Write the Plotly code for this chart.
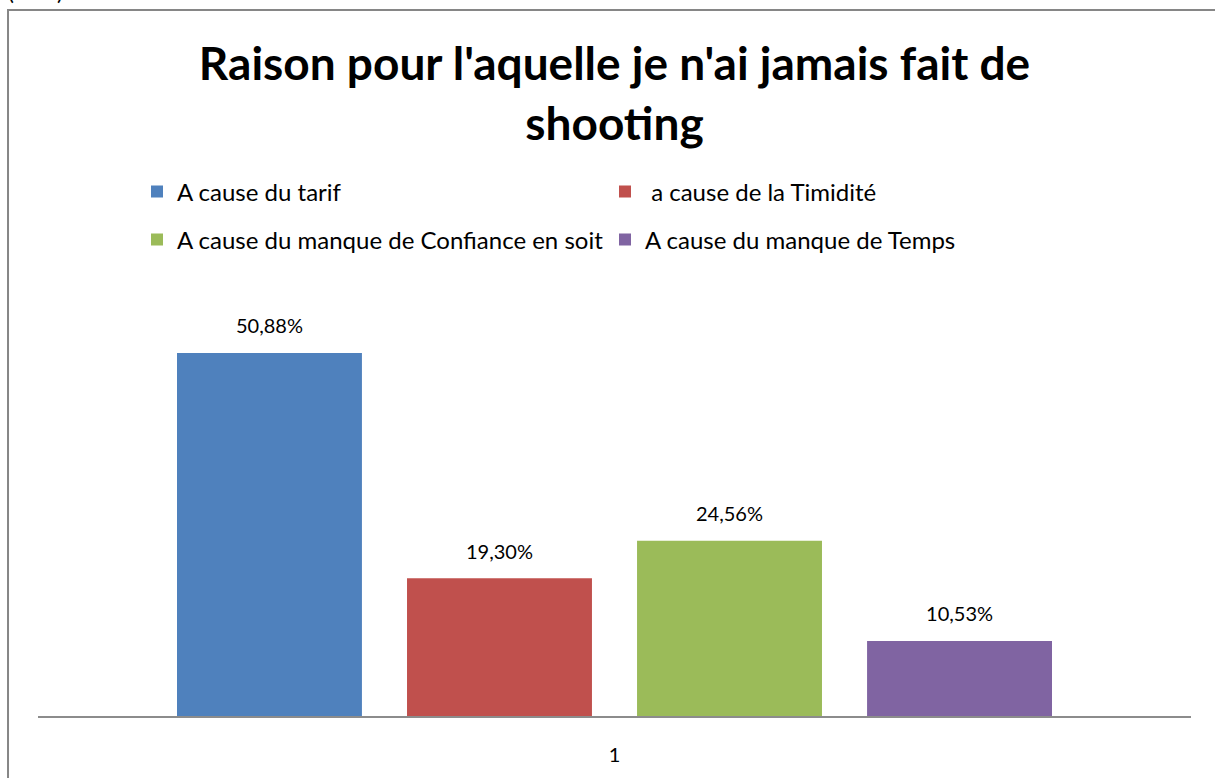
import plotly.graph_objects as go

categories = ["1"]
series_names = ["A cause du tarif", "\u00a0a cause de la Timidité",
                "A cause du manque de Confiance en soit", "A cause du manque de Temps"]
series_values = [50.88, 19.30, 24.56, 10.53]
colors = ["#4F81BD", "#C0504D", "#9BBB59", "#8064A2"]
legend_rows = ["legend", "legend", "legend2", "legend2"]
title_text = "Raison pour l'aquelle je n'ai jamais fait de<br>shooting"

FONT = "Lato"
W, H = 1215, 778

fig = go.Figure()
for name, val, col, lg in zip(series_names, series_values, colors, legend_rows):
    fig.add_trace(go.Bar(
        x=categories, y=[val], name=name, legend=lg,
        marker=dict(color=col, line=dict(width=0)),
    ))
for name, val in zip(series_names, series_values):
    fig.add_trace(go.Scatter(
        x=categories, y=[val], mode="markers+text", showlegend=False, hoverinfo="skip",
        marker=dict(size=22, opacity=0), text=[f"{val:.2f}%".replace(".", ",")],
        textposition="top center", textfont=dict(family=FONT, size=20, color="black"),
        cliponaxis=False,
    ))

legend_common = dict(orientation="h", xref="container", yref="container",
                     xanchor="left", yanchor="middle",
                     entrywidth=423, entrywidthmode="pixels",
                     font=dict(family=FONT, size=24, color="black"),
                     traceorder="normal", itemclick=False, bgcolor="rgba(0,0,0,0)")

fig.update_layout(
    width=W, height=H,
    paper_bgcolor="white", plot_bgcolor="white",
    barmode="group", bargap=0.202, bargroupgap=0.196,
    scattermode="group", scattergap=0.202,
    margin=dict(l=38, r=24, t=288, b=62, autoexpand=False),
    font=dict(family=FONT, color="black"),
    title=dict(text=title_text, x=0.5, xref="paper", xanchor="center",
               y=1 - 80 / H, yref="container", yanchor="top",
               font=dict(family=FONT, size=46, color="black", weight="bold")),
    legend=dict(x=137 / W, y=1 - 192 / H, **legend_common),
    legend2=dict(x=137 / W, y=1 - 240 / H, **legend_common),
    showlegend=True,
)
fig.update_xaxes(type="category", showline=True, linecolor="#8C8C8C", linewidth=2,
                 ticks="outside", ticklen=20, tickcolor="rgba(0,0,0,0)",
                 tickfont=dict(family=FONT, size=20, color="black"),
                 showgrid=False, zeroline=False)
fig.update_yaxes(range=[0, 60], visible=False, showgrid=False, zeroline=False)

fig.add_shape(type="rect", xref="paper", yref="paper",
              x0=-0.026, x1=1.1, y0=-0.3, y1=1.6495,
              line=dict(color="#868686", width=2), fillcolor="rgba(0,0,0,0)", layer="below")
fig.add_annotation(text="(50%)", xref="paper", yref="paper", x=-0.0278, y=1.6565,
                   xanchor="left", yanchor="bottom", showarrow=False,
                   font=dict(family=FONT, size=22, color="black"))

fig.write_html("out.html", config={"displayModeBar": False},
               post_script="document.body.style.margin='0px';")
